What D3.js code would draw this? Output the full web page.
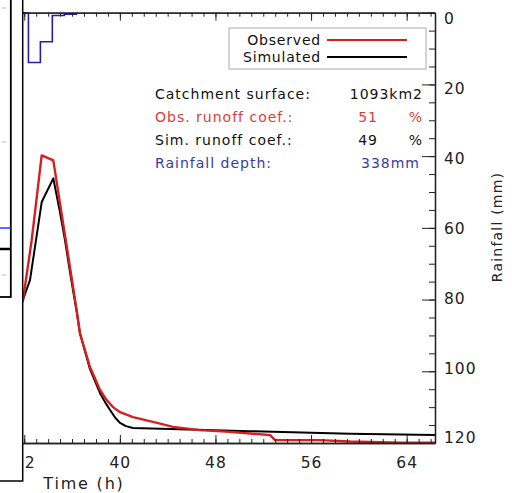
<!DOCTYPE html>
<html>
<head>
<meta charset="utf-8">
<script src="https://cdn.jsdelivr.net/npm/d3@7/dist/d3.min.js"></script>
<style>
  body { margin: 0; background: #fff; }
  text { font-family: "DejaVu Sans", sans-serif; }
</style>
</head>
<body>
<div id="chart"></div>
<script>
const width = 512
const height = 493
const plot = { left: 22.7, right: 435, top: 12.7, bottom: 443 }

// Observed discharge (m3/s) vs time (h)
const timeObs = [31.87, 32.62, 33.46, 34.43, 35.41, 36.39, 36.66, 37.5, 38.34, 38.84, 39.43, 40.01, 41.1, 43.11, 44.45, 46.71, 49.22, 52.57, 52.99, 56.75, 59.26, 63.45, 66.37]
const qObs = [393, 565, 802, 788, 579, 370, 306, 212, 148, 122, 100, 86, 72, 56, 45, 36, 31, 22, 8, 8, 4, 1, 1]

// Simulated discharge
const timeSim = [31.87, 32.48, 33.46, 34.43, 34.99, 35.41, 35.83, 36.39, 36.66, 37.5, 38.34, 38.76, 39.18, 39.6, 40.01, 40.51, 41.1, 44.2, 50.89, 59.26, 66.37]
const qSim = [398, 454, 672, 738, 643, 565, 476, 365, 306, 206, 139, 114, 92, 71, 56, 47, 42, 39, 33, 26, 22]

// Rainfall (mm), hourly steps
const rainTime = [31.87, 32.35, 33.35, 34.35, 35.35, 36.35]
const rainDepth = [0, 13.9, 8.1, 0.8, 0.4, 0]

// ticks
const timeMajor = [32, 40, 48, 56, 64]
const timeMinor = d3.range(32, 67, 1)
const rainMajor = [0, 20, 40, 60, 80, 100, 120]
const rainMinor = d3.range(0, 121, 5)

// info text
const infoLabels = ["Catchment surface:", "Obs. runoff coef.:", "Sim. runoff coef.:", "Rainfall depth:"]
const infoValues = ["1093km2", "51", "49", "338mm"]
const infoUnits = ["", "%", "%", ""]
const infoColors = ["#111", "#d8403c", "#111", "#3a3aa6"]

const svg = d3.select("#chart")
  .append("svg")
  .attr("width", width)
  .attr("height", height)

const x = d3.scaleLinear().domain([31.87, 66.37]).range([plot.left, plot.right])
const yQ = d3.scaleLinear().domain([0, 1200]).range([plot.bottom, plot.top])
const yR = d3.scaleLinear().domain([0, 120]).range([plot.top, plot.bottom])
// label centres sit a bit off the ticks in the original
const yLabel = d3.scaleLinear().domain([0, 120]).range([18.3, 438])

svg.append("clipPath").attr("id", "clip")
  .append("rect")
  .attr("x", plot.left).attr("y", plot.top - 2)
  .attr("width", plot.right - plot.left).attr("height", plot.bottom - plot.top + 4)

const elementGroup = svg.append("g").attr("clip-path", "url(#clip)")

// rainfall step line
elementGroup.append("path")
  .datum(rainTime.map((t, i) => [t, rainDepth[i]]))
  .attr("fill", "none")
  .attr("stroke", "#2020a8")
  .attr("stroke-width", 1.6)
  .attr("d", d3.line().curve(d3.curveStepAfter).x(d => x(d[0])).y(d => yR(d[1])))

// hydrographs
const line = d3.line().x(d => x(d[0])).y(d => yQ(d[1]))
elementGroup.append("path")
  .datum(timeSim.map((t, i) => [t, qSim[i]]))
  .attr("fill", "none").attr("stroke", "#000").attr("stroke-width", 2)
  .attr("stroke-linejoin", "round")
  .attr("d", line)
elementGroup.append("path")
  .datum(timeObs.map((t, i) => [t, qObs[i]]))
  .attr("fill", "none").attr("stroke", "#d81e1e").attr("stroke-width", 2.4)
  .attr("stroke-linejoin", "round")
  .attr("d", line)

// axes
const axisGroup = svg.append("g")

function styleAxis(g) {
  g.selectAll(".domain").attr("stroke", "#222").attr("stroke-width", 1.3)
  g.selectAll(".tick line").attr("stroke", "#222").attr("stroke-width", 1)
  g.selectAll("text").attr("font-size", 15.5).attr("fill", "#222")
    .style("font-family", "DejaVu Sans").attr("letter-spacing", 1)
}

axisGroup.append("g").attr("transform", `translate(0, ${plot.bottom})`)
  .call(d3.axisBottom(x).tickValues(timeMinor).tickSize(-4).tickSizeOuter(0).tickFormat(""))
  .call(styleAxis)
axisGroup.append("g").attr("transform", `translate(0, ${plot.bottom})`)
  .call(d3.axisBottom(x).tickValues(timeMajor).tickSize(-8).tickSizeOuter(0).tickPadding(14))
  .call(styleAxis)

axisGroup.append("g").attr("transform", `translate(0, ${plot.top})`)
  .call(d3.axisTop(x).tickValues(timeMinor).tickSize(-4).tickSizeOuter(0).tickFormat(""))
  .call(styleAxis)
axisGroup.append("g").attr("transform", `translate(0, ${plot.top})`)
  .call(d3.axisTop(x).tickValues(timeMajor).tickSize(-8).tickSizeOuter(0).tickFormat(""))
  .call(styleAxis)

axisGroup.append("g").attr("transform", `translate(${plot.right}, 0)`)
  .call(d3.axisRight(yR).tickValues(rainMinor).tickSize(-6).tickSizeOuter(0).tickFormat(""))
  .call(styleAxis)
const rightMajor = axisGroup.append("g").attr("transform", `translate(${plot.right}, 0)`)
  .call(d3.axisRight(yR).tickValues(rainMajor).tickSize(-13).tickSizeOuter(0).tickPadding(9))
  .call(styleAxis)
rightMajor.selectAll("text").attr("y", d => yLabel(d) - yR(d))

svg.append("text")
  .attr("transform", "translate(502, 227) rotate(-90)")
  .attr("text-anchor", "middle")
  .attr("font-size", 14).attr("letter-spacing", 1.2).attr("fill", "#222")
  .text("Rainfall (mm)")

svg.append("text")
  .attr("x", 84).attr("y", 489)
  .attr("text-anchor", "middle")
  .attr("font-size", 16).attr("letter-spacing", 1.8).attr("fill", "#222")
  .text("Time (h)")

// legend
const legend = svg.append("g")
legend.append("rect")
  .attr("x", 229).attr("y", 28).attr("width", 197).attr("height", 41)
  .attr("fill", "#fff").attr("stroke", "#aaa").attr("stroke-width", 1)
const legendNames = ["Observed", "Simulated"]
const legendColors = ["#d81e1e", "#000"]
legendNames.forEach((name, i) => {
  const yy = 40 + i * 17
  legend.append("text")
    .attr("x", 321).attr("y", yy + 5)
    .attr("text-anchor", "end")
    .attr("font-size", 14).attr("letter-spacing", 0.8).attr("fill", "#111")
    .text(name)
  legend.append("line")
    .attr("x1", 327).attr("x2", 407).attr("y1", yy).attr("y2", yy)
    .attr("stroke", legendColors[i]).attr("stroke-width", 2)
})

// info block
const info = svg.append("g")
infoLabels.forEach((lab, i) => {
  const yy = 99 + i * 23
  info.append("text")
    .attr("x", 155).attr("y", yy)
    .attr("font-size", 14).attr("letter-spacing", 1).attr("fill", infoColors[i])
    .text(lab)
  info.append("text")
    .attr("x", i === 0 ? 423 : (infoUnits[i] ? 378 : 420)).attr("y", yy)
    .attr("text-anchor", "end")
    .attr("font-size", 14).attr("letter-spacing", 1).attr("fill", infoColors[i])
    .text(infoValues[i])
  if (infoUnits[i]) {
    info.append("text")
      .attr("x", 422).attr("y", yy)
      .attr("text-anchor", "end")
      .attr("font-size", 14).attr("fill", infoColors[i])
      .text(infoUnits[i])
  }
})

// neighbouring panel that overlaps the left edge
const side = svg.append("g")
side.append("rect")
  .attr("x", -10).attr("y", -10).attr("width", 32.7).attr("height", 491)
  .attr("fill", "#fff").attr("stroke", "#000").attr("stroke-width", 1.5)
side.append("rect")
  .attr("x", -10).attr("y", -10).attr("width", 20.8).attr("height", 307)
  .attr("fill", "#fff").attr("stroke", "#000").attr("stroke-width", 1.8)
side.append("line")
  .attr("x1", 0).attr("x2", 10.8).attr("y1", 228).attr("y2", 228)
  .attr("stroke", "#1f3cff").attr("stroke-width", 1.5)
side.append("line")
  .attr("x1", 0).attr("x2", 10.8).attr("y1", 249).attr("y2", 249)
  .attr("stroke", "#000").attr("stroke-width", 2.5)
const sideTicks = [8, 142, 275]
side.selectAll(".stick").data(sideTicks).join("line")
  .attr("x1", 1.5).attr("x2", 6).attr("y1", d => d).attr("y2", d => d)
  .attr("stroke", "#bbb").attr("stroke-width", 1)
</script>
</body>
</html>
